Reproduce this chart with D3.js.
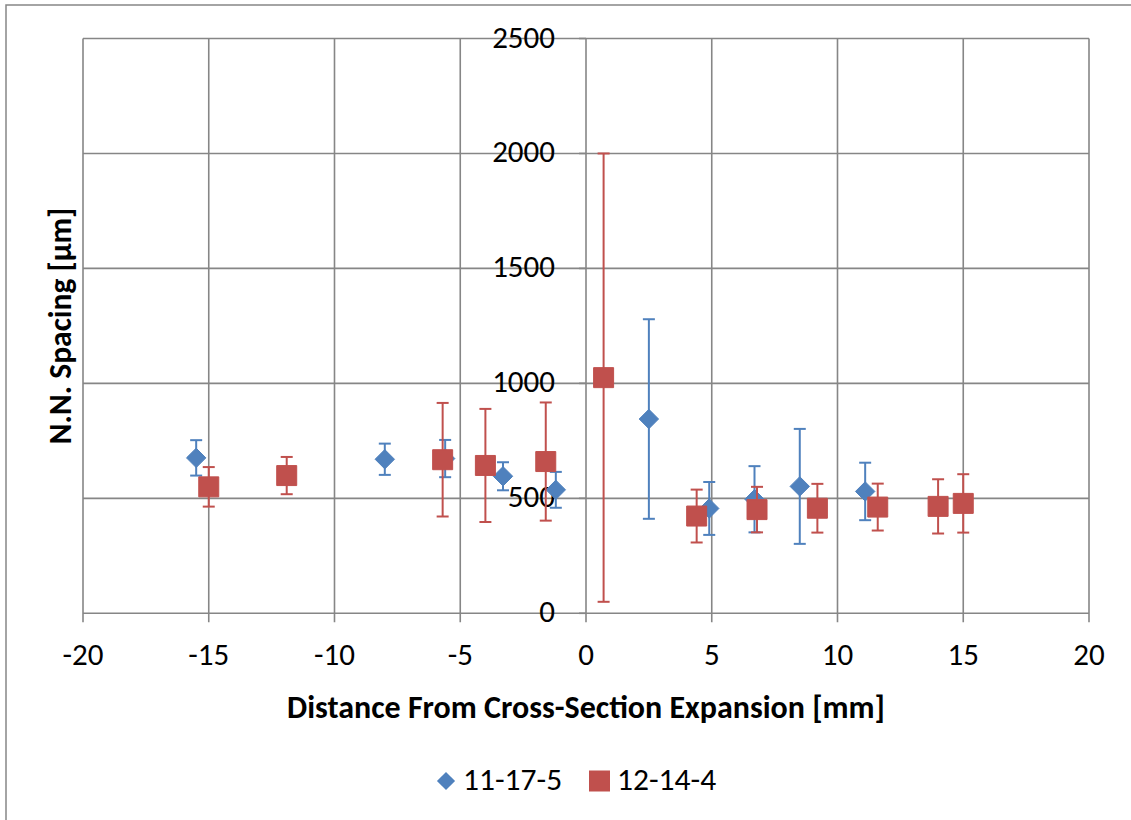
<!DOCTYPE html>
<html>
<head>
<meta charset="utf-8">
<script src="https://cdn.jsdelivr.net/npm/d3@7"></script>
<style>
  html, body { margin: 0; padding: 0; background: #fff; }
  svg { display: block; }
  text { font-family: Carlito, Calibri, Lato, "Liberation Sans", sans-serif; fill: #000; }
</style>
</head>
<body>
<svg id="chart" width="1131" height="820"></svg>
<script>
// Series "11-17-5": position [mm], mean spacing [µm], error half-width [µm]
const seriesAX = [-15.5, -8.0, -5.6, -3.3, -1.2, 2.5, 4.9, 6.7, 8.5, 11.1];
const seriesAY = [676, 670, 673, 596, 537, 845, 456, 496, 552, 530];
const seriesAErr = [77, 68, 81, 61, 78, 434, 115, 144, 250, 125];

// Series "12-14-4"
const seriesBX = [-15.0, -11.9, -5.7, -4.0, -1.6, 0.7, 4.4, 6.8, 9.2, 11.6, 14.0, 15.0];
const seriesBY = [550, 599, 668, 643, 660, 1025, 423, 451, 457, 462, 465, 478];
const seriesBErr = [86, 81, 247, 246, 257, 975, 115, 99, 106, 102, 118, 127];

const seriesNames = ["11-17-5", "12-14-4"];
const xTicks = [-20, -15, -10, -5, 0, 5, 10, 15, 20];
const yTicks = [0, 500, 1000, 1500, 2000, 2500];

const svg = d3.select("#chart");
const grid = "#868686";
const colors = ["#4F81BD", "#C0504D"];

const plot = { left: 83, right: 1089, top: 38.5, bottom: 613.3 };
const x = d3.scaleLinear().domain([-20, 20]).range([plot.left, plot.right]);
const y = d3.scaleLinear().domain([0, 2500]).range([plot.bottom, plot.top]);

// outer chart frame
svg.append("rect")
  .attr("x", 6).attr("y", 5).attr("width", 1140).attr("height", 830)
  .attr("fill", "none").attr("stroke", grid).attr("stroke-width", 1.5);

// horizontal gridlines
svg.append("g").selectAll("line").data(yTicks).join("line")
  .attr("x1", plot.left).attr("x2", plot.right)
  .attr("y1", d => y(d)).attr("y2", d => y(d))
  .attr("stroke", grid).attr("stroke-width", 1.6);

// vertical gridlines, extended below the axis as tick marks
svg.append("g").selectAll("line").data(xTicks).join("line")
  .attr("x1", d => x(d)).attr("x2", d => x(d))
  .attr("y1", plot.top).attr("y2", plot.bottom + 9)
  .attr("stroke", grid).attr("stroke-width", 1.6);

// y axis ticks at x = 0
svg.append("g").selectAll("line").data(yTicks).join("line")
  .attr("x1", x(0) - 7).attr("x2", x(0))
  .attr("y1", d => y(d)).attr("y2", d => y(d))
  .attr("stroke", grid).attr("stroke-width", 1.6);

// y tick labels (axis crosses at x = 0)
svg.append("g").selectAll("text").data(yTicks).join("text")
  .attr("x", x(0) - 31).attr("y", d => y(d) + 9)
  .attr("text-anchor", "end")
  .attr("font-size", 31).text(d => d);

// x tick labels
svg.append("g").selectAll("text").data(xTicks).join("text")
  .attr("x", d => x(d)).attr("y", 665)
  .attr("text-anchor", "middle")
  .attr("font-size", 31).text(d => d);

// axis titles
svg.append("text")
  .attr("x", (plot.left + plot.right) / 2).attr("y", 718)
  .attr("text-anchor", "middle")
  .attr("font-size", 32).attr("font-weight", "bold")
  .text("Distance From Cross-Section Expansion [mm]");

svg.append("text")
  .attr("transform", `translate(71,${(plot.top + plot.bottom) / 2}) rotate(-90)`)
  .attr("text-anchor", "middle")
  .attr("font-size", 31.5).attr("font-weight", "bold")
  .text("N.N. Spacing [µm]");

const diamond = d3.symbol().type(d3.symbolDiamond2).size(240);
const square = d3.symbol().type(d3.symbolSquare).size(400);

function drawSeries(xs, ys, errs, color, symbolPath) {
  const pts = xs.map((v, i) => ({ x: v, y: ys[i], e: errs[i] }));
  const g = svg.append("g");
  const cap = 6;
  g.selectAll("line.err").data(pts).join("line").attr("class", "err")
    .attr("x1", d => x(d.x)).attr("x2", d => x(d.x))
    .attr("y1", d => y(d.y + d.e)).attr("y2", d => y(d.y - d.e))
    .attr("stroke", color).attr("stroke-width", 2);
  g.selectAll("line.capT").data(pts).join("line").attr("class", "capT")
    .attr("x1", d => x(d.x) - cap).attr("x2", d => x(d.x) + cap)
    .attr("y1", d => y(d.y + d.e)).attr("y2", d => y(d.y + d.e))
    .attr("stroke", color).attr("stroke-width", 2);
  g.selectAll("line.capB").data(pts).join("line").attr("class", "capB")
    .attr("x1", d => x(d.x) - cap).attr("x2", d => x(d.x) + cap)
    .attr("y1", d => y(d.y - d.e)).attr("y2", d => y(d.y - d.e))
    .attr("stroke", color).attr("stroke-width", 2);
  g.selectAll("path").data(pts).join("path")
    .attr("transform", d => `translate(${x(d.x)},${y(d.y)})`)
    .attr("d", symbolPath)
    .attr("fill", color)
    .attr("stroke", color).attr("stroke-width", 1).attr("stroke-linejoin", "round");
}

drawSeries(seriesAX, seriesAY, seriesAErr, colors[0], diamond);
drawSeries(seriesBX, seriesBY, seriesBErr, colors[1], square);

// legend
const legend = svg.append("g");
legend.append("path").attr("transform", "translate(446,781)")
  .attr("d", d3.symbol().type(d3.symbolDiamond2).size(210)).attr("fill", colors[0]);
legend.append("text").attr("x", 463).attr("y", 790)
  .attr("font-size", 31.5).text(seriesNames[0]);
legend.append("rect").attr("x", 589).attr("y", 770.5).attr("width", 21).attr("height", 21)
  .attr("fill", colors[1]);
legend.append("text").attr("x", 617).attr("y", 790)
  .attr("font-size", 31.5).text(seriesNames[1]);
</script>
</body>
</html>
